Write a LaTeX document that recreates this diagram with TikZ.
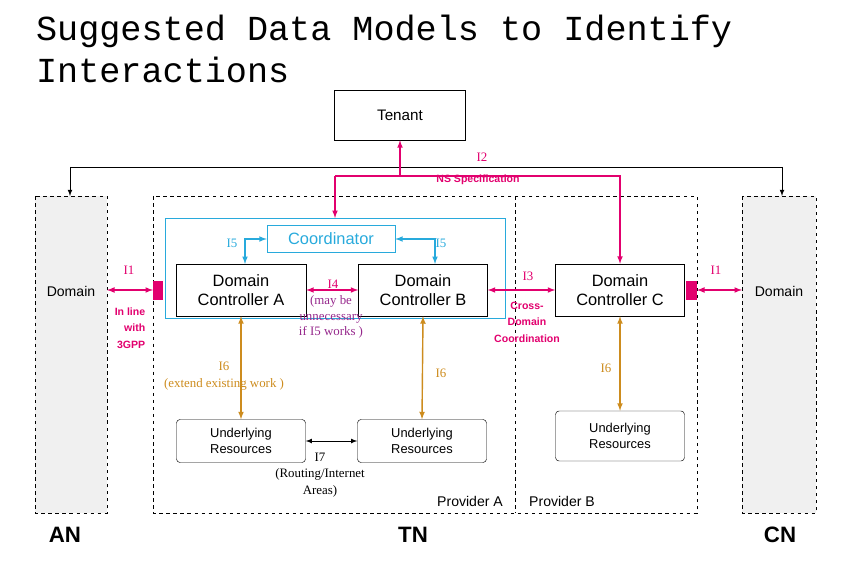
\documentclass[tikz,border=0pt]{standalone}
\usepackage{fontspec}
\setmainfont{Liberation Serif}
\setsansfont{Liberation Sans}
\setmonofont{Liberation Mono}
\usetikzlibrary{positioning,calc}
\definecolor{pink}{RGB}{226,0,110}
\definecolor{cyanc}{RGB}{40,170,220}
\definecolor{orangec}{RGB}{205,140,30}
\definecolor{purplec}{RGB}{150,40,140}
\definecolor{domgray}{RGB}{240,240,240}
\newdimen\px \px=0.03cm
\begin{document}
\begin{tikzpicture}[x=0.03cm,y=-0.03cm]
\tikzstyle{box}=[draw,thin,font=\sffamily\fontsize{14}{16}\selectfont,align=center,inner sep=0pt]
\tikzstyle{res}=[box,rounded corners=3pt,font=\sffamily\fontsize{11}{13}\selectfont]
\tikzstyle{dom}=[draw,dashed,fill=domgray]
\tikzstyle{pk}=[pink,font=\fontsize{11}{13}\selectfont]
\tikzstyle{pknarrow}=[pink,font=\sffamily\fontsize{9}{14}\selectfont\bfseries,align=center]
\useasboundingbox (0,0) rectangle (851,567);

   %title
    \node[anchor=west,font=\ttfamily\fontsize{30}{36}\selectfont,align=left] (title) at (32,49) {Suggested Data Models to Identify\\Interactions};

   %domains
    \draw[dom] (35,196) rectangle (107,513);
    \draw[dom] (742,196) rectangle (816,513);
    \draw[dashed] (153,196) rectangle (697,513);
    \draw[dashed] (515,196) -- (515,513);
    \node[font=\sffamily\fontsize{12}{14}\selectfont] (anDom) at (71,291) {Domain};
    \node[font=\sffamily\fontsize{12}{14}\selectfont] (cnDom) at (779,291) {Domain};

    \draw[cyanc] (165,218) rectangle (505,318);
    \node[box,minimum width=131\px,minimum height=50\px] (tenant) at (400,115) {\fontsize{13}{15}\selectfont Tenant};
    \node[box,draw=cyanc,text=cyanc,minimum width=128\px,minimum height=27\px] (coord) at (331,239) {Coordinator};
    \node[box,minimum width=130\px,minimum height=52\px] (dcA) at (241,290) {Domain\\Controller A};
    \node[box,minimum width=129\px,minimum height=52\px] (dcB) at (423,290) {Domain\\Controller B};
    \node[box,minimum width=129\px,minimum height=52\px] (dcC) at (620,290) {Domain\\Controller C};
    \node[res,minimum width=129\px,minimum height=43\px] (resA) at (241,441) {Underlying\\Resources};
    \node[res,minimum width=129\px,minimum height=43\px] (resB) at (422,441) {Underlying\\Resources};
    \node[res,minimum width=129\px,minimum height=50\px] (resC) at (620,436) {Underlying\\Resources};

    \fill[pink] (153,281) rectangle (163,300);
    \fill[pink] (686,281) rectangle (697,300);

   %black top line
    \coordinate (tl) at (70,167);
    \coordinate (tr) at (782,167);
    \draw[thick,-latex] (tl) -- (70,196);
    \draw[thick,-latex] (tr) -- (782,196);
    \draw[thick] (tl) -- (tr);

   %I2
    \draw[pink,very thick,-latex] (400,176) -- (tenant.south);
    \draw[pink,very thick,-latex] (335,176) -- (335,218);
    \draw[pink,very thick,-latex] (335,176) -- (620,176) -- (dcC.north);
    \node[pk] (i2) at (482,157) {I2};
    \node[pknarrow] (ns) at (478,180) {NS Specification};

   %I1
    \draw[pink,very thick,latex-latex] (107,290) -- (153,290);
    \draw[pink,very thick,latex-latex] (697,290) -- (742,290);
    \node[pk] (i1l) at (129,270) {I1};
    \node[pk] (i1r) at (716,270) {I1};
    \node[pknarrow,align=right] (inline) at (130,328) {In line\\with\\3GPP};

   %I4, I3
    \draw[pink,very thick,latex-latex] (dcA.east) -- (dcB.west);
    \draw[pink,very thick,latex-latex] (dcB.east) -- (dcC.west);
    \node[pk] (i4) at (333,284) {I4};
    \node[purplec,font=\fontsize{11}{13}\selectfont,align=center,inner sep=0pt] (may) at (331,317) {(may be\\unnecessary\\if I5 works )};
    \node[pk] (i3) at (528,276) {I3};
    \node[pknarrow] (cross) at (527,322) {Cross-\\Domain\\Coordination};

   %I5
    \draw[cyanc,very thick,latex-latex] (coord.west) -- (245,239) -- (245,264);
    \draw[cyanc,very thick,latex-latex] (coord.east) -- (435,239) -- (435,264);
    \node[cyanc,font=\fontsize{11}{13}\selectfont] (i5l) at (232,243) {I5};
    \node[cyanc,font=\fontsize{11}{13}\selectfont] (i5r) at (441,243) {I5};

   %I6
    \draw[orangec,very thick,latex-latex] (dcA.south) -- (resA.north);
    \draw[orangec,very thick,latex-latex] (dcB.south) -- (resB.north);
    \draw[orangec,very thick,latex-latex] (dcC.south) -- (resC.north);
    \node[orangec,font=\fontsize{11}{14}\selectfont,align=center] (i6a) at (224,376) {I6\\(extend existing work )};
    \node[orangec,font=\fontsize{11}{13}\selectfont] (i6b) at (441,373) {I6};
    \node[orangec,font=\fontsize{11}{13}\selectfont] (i6c) at (606,368) {I6};

   %I7
    \draw[thick,latex-latex] (resA.east) -- (resB.west);
    \node[font=\fontsize{11}{14}\selectfont,align=center] (i7) at (320,475) {I7\\(Routing/Internet\\Areas)};

    \node[font=\sffamily\fontsize{12}{14}\selectfont] (provA) at (470,501) {Provider A};
    \node[font=\sffamily\fontsize{12}{14}\selectfont] (provB) at (562,501) {Provider B};
    \node[font=\sffamily\bfseries\fontsize{19}{22}\selectfont] (an) at (65,535) {AN};
    \node[font=\sffamily\bfseries\fontsize{19}{22}\selectfont] (tn) at (413,535) {TN};
    \node[font=\sffamily\bfseries\fontsize{19}{22}\selectfont] (cn) at (780,535) {CN};
\end{tikzpicture}
\end{document}
